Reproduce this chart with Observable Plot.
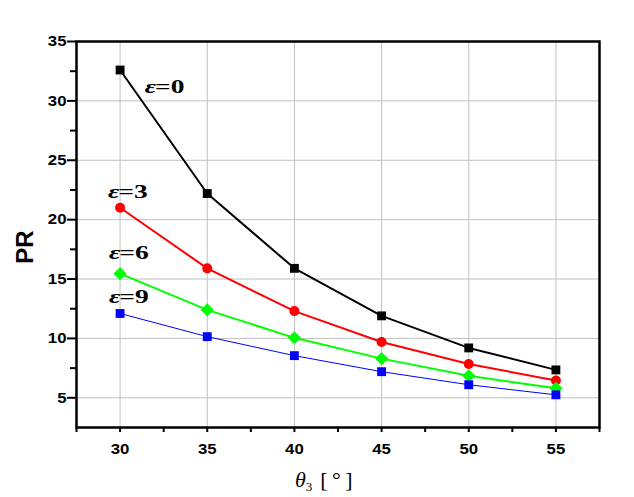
<!DOCTYPE html>
<html><head><meta charset="utf-8">
<script src="https://cdn.jsdelivr.net/npm/d3@7"></script>
<script src="https://cdn.jsdelivr.net/npm/@observablehq/plot@0.6"></script>
<style>body{margin:0;background:#fff}</style>
</head><body><div id="chart"></div>
<script>
const theta = [30, 35, 40, 45, 50, 55];
const eps0 = [32.6, 22.2, 15.9, 11.9, 9.2, 7.35];
const eps3 = [21.0, 15.9, 12.3, 9.7, 7.85, 6.45];
const eps6 = [15.45, 12.4, 10.05, 8.3, 6.85, 5.8];
const eps9 = [12.1, 10.15, 8.55, 7.2, 6.1, 5.25];
const xTicks = [30, 35, 40, 45, 50, 55];
const xMinor = [27.5, 32.5, 37.5, 42.5, 47.5, 52.5, 57.5];
const yTicks = [5, 10, 15, 20, 25, 30, 35];
const yMinor = [2.5, 7.5, 12.5, 17.5, 22.5, 27.5, 32.5];
const labelNames = ["=0", "=3", "=6", "=9"];
const labelX = [32.0, 29.9, 29.95, 29.95];
const labelY = [30.7, 21.86, 16.72, 13.01];

const series = [
  {vals: eps0, color: "black", sw: 2, symbol: "square", r: 5},
  {vals: eps3, color: "#ff0000", sw: 2, symbol: "circle", r: 5},
  {vals: eps6, color: "#00ff00", sw: 2, symbol: "diamond2", r: 6},
  {vals: eps9, color: "#0000ff", sw: 1, symbol: "square", r: 5}
];
const marks = [
  Plot.gridX(xTicks, {stroke: "#c0c0c0", strokeOpacity: 1, strokeWidth: 1}),
  Plot.gridY(yTicks, {stroke: "#c0c0c0", strokeOpacity: 1, strokeWidth: 1}),
];
for (const s of series) {
  const d = theta.map((t, i) => ({t, v: s.vals[i]}));
  marks.push(Plot.line(d, {x: "t", y: "v", stroke: s.color, strokeWidth: s.sw}));
}
for (const s of series) {
  const d = theta.map((t, i) => ({t, v: s.vals[i]}));
  marks.push(Plot.dot(d, {x: "t", y: "v", fill: s.color, symbol: s.symbol, r: s.r, stroke: "none"}));
}
const labels = labelNames.map((n, i) => ({n, x: labelX[i], y: labelY[i]}));
marks.push(
  Plot.text(labels, {x: "x", y: "y", text: () => "ε", textAnchor: "end", lineAnchor: "bottom", dx: 1,
    className: "epslab",
    fontFamily: "Liberation Serif", fontStyle: "italic", fontWeight: "bold", fontSize: 19, fill: "black"}),
  Plot.text(labels, {x: "x", y: "y", text: "n", textAnchor: "start", lineAnchor: "bottom",
    className: "epslab",
    fontFamily: "Liberation Serif", fontWeight: "bold", fontSize: 19, fill: "black"}),
  Plot.axisY({ticks: yTicks, tickSize: 9, tickPadding: 1, tickFormat: d => d, label: null, className: "ticklab",
    fontSize: 15, fontWeight: "bold", fontFamily: "Liberation Sans", strokeWidth: 2, stroke: "black"}),
  Plot.axisY({ticks: yMinor.filter(v => v > 2.6), tickSize: 6, text: null, label: null, strokeWidth: 2}),
  Plot.axisX({ticks: xTicks, tickSize: 5, tickPadding: 11, tickFormat: d => d, label: null, className: "ticklab",
    fontSize: 15, fontWeight: "bold", fontFamily: "Liberation Sans", strokeWidth: 2}),
  Plot.axisX({ticks: xMinor, tickSize: 5, text: null, label: null, strokeWidth: 2}),
  Plot.frame({stroke: "black", strokeWidth: 2.5})
);

const chart = Plot.plot({
  width: 634, height: 497,
  marginLeft: 76, marginRight: 35, marginTop: 41, marginBottom: 70,
  x: {domain: [27.5, 57.5]},
  y: {domain: [2.5, 35]},
  style: {background: "white", color: "black"},
  marks
});
const svg = d3.select(chart);
svg.selectAll("g.epslab text").attr("transform", function() {
  return (this.getAttribute("transform") || "") + " scale(1.45,1)";
});
svg.selectAll("g.ticklab text").attr("transform", function() {
  return (this.getAttribute("transform") || "") + " scale(1.12,1)";
});
svg.append("text").attr("transform", "translate(33,247) rotate(-90)")
  .attr("text-anchor", "middle").attr("font-family", "Liberation Sans")
  .attr("font-weight", "bold").attr("font-size", 24).attr("fill", "black").text("PR");
const xl = svg.append("text").attr("x", 295).attr("y", 487).attr("text-anchor", "start")
  .attr("font-family", "Liberation Serif").attr("font-size", 22).attr("fill", "black");
xl.append("tspan").attr("font-style", "italic").text("θ");
xl.append("tspan").attr("font-size", 13).attr("dy", 4).text("3");
xl.append("tspan").attr("dy", -4).attr("dx", 8).text("[\u2009°\u2009]");
document.getElementById("chart").appendChild(chart);
</script></body></html>
